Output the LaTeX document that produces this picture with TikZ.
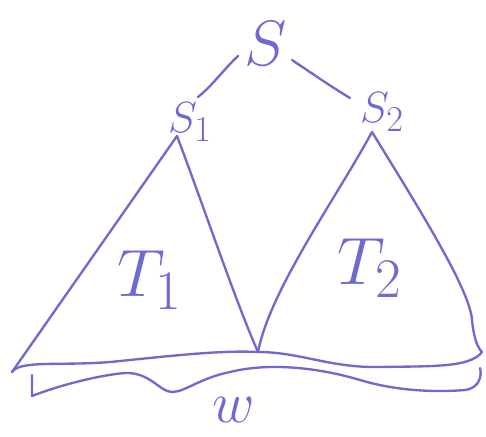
\documentclass[tikz,border=0pt]{standalone}
\usepackage{graphicx}
\usetikzlibrary{calc}
\definecolor{pen}{RGB}{112,106,206}
\newcommand{\hwr}[2]{\scalebox{#1}{$#2$}}
\begin{document}
\begin{tikzpicture}[x=0.03cm,y=-0.03cm,
  ink/.style={draw=pen,line width=2pt,line cap=round,line join=round},
  lbl/.style={text=pen,inner sep=0pt,font=\fontsize{24.88}{26}\selectfont}]
\useasboundingbox (0,0) rectangle (486,436);
% labels
\node[lbl] (S) at (266,44) {\hwr{2.2}{S}};
\node[lbl] (S1) at (190,122) {\hwr{1.5}{S_1}};
\node[lbl] (S2) at (382,112) {\hwr{1.5}{S_2}};
\node[lbl] (T1) at (150,280) {\hwr{2.3}{T_1}};
\node[lbl] (T2) at (370,268) {\hwr{2.3}{T_2}};
\node[lbl] (w) at (234,410) {\hwr{2.0}{w}};
% corner points
\coordinate (a1) at (177,136);
\coordinate (a2) at (372,132);
\coordinate (bl) at (12,372);
\coordinate (bm) at (258,352);
\coordinate (br) at (482,352);
\coordinate (sl) at (238,56);
\coordinate (sr) at (292,60);
% tree edges
\draw[ink] (sl) .. controls (225,68) and (212,86) .. (198,97);
\draw[ink] (sr) .. controls (310,72) and (330,86) .. (350,98);
% triangle T1
\draw[ink] (a1) -- (bl);
\draw[ink] (a1) .. controls (205,210) and (235,300) .. (bm);
% triangle T2
\draw[ink] (a2) .. controls (335,200) and (270,290) .. (bm);
\draw[ink] (a2) .. controls (420,210) and (470,290) .. (472,320)
  .. controls (474,340) and (478,348) .. (br);
% frontier line
\draw[ink] (bl) .. controls (20,360) and (60,366) .. (110,362)
  .. controls (170,356) and (220,350) .. (bm)
  .. controls (300,352) and (330,368) .. (380,367)
  .. controls (430,366) and (470,368) .. (br);
% second wavy line
\coordinate (c0) at (32,375);
\draw[ink] (c0) -- (32,396)
  .. controls (60,385) and (100,375) .. (125,373)
  .. controls (150,372) and (160,392) .. (172,392)
  .. controls (185,392) and (200,378) .. (230,372)
  .. controls (270,362) and (320,368) .. (360,380)
  .. controls (400,392) and (440,392) .. (465,390)
  .. controls (480,388) and (482,375) .. (480,368);
\end{tikzpicture}
\end{document}
